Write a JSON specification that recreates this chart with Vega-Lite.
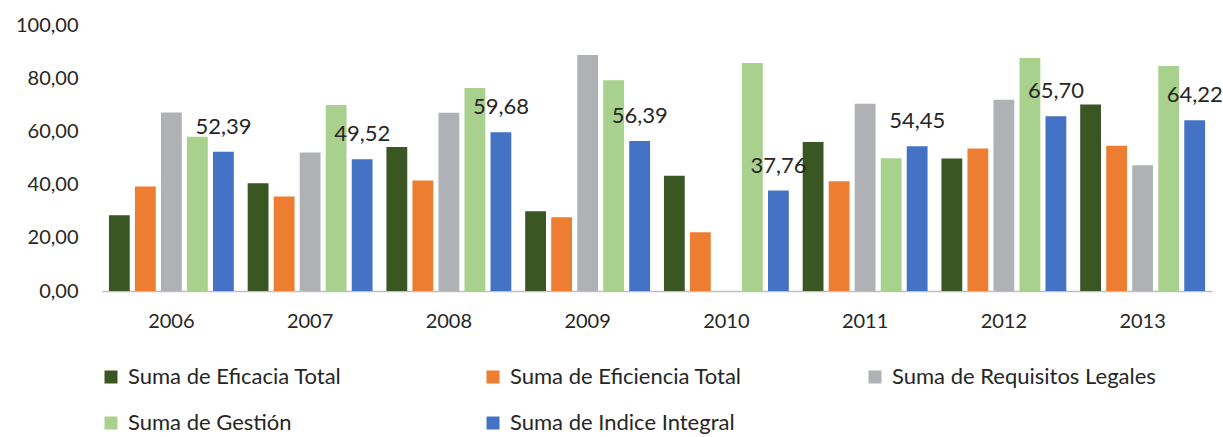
{
  "$schema": "https://vega.github.io/schema/vega-lite/v6.json",
  "width": 1110,
  "height": 266,
  "autosize": {"type": "none"},
  "padding": {"left": 102, "top": 25, "right": 11, "bottom": 146},
  "background": "white",
  "config": {
    "locale": {"number": {"decimal": ",", "thousands": ".", "grouping": [3], "currency": ["", " €"]}},
    "font": "Lato",
    "view": {"stroke": null}
  },
  "data": {
    "values": [
      {"year": "2006", "serie": "Suma de Eficacia Total", "valor": 28.5},
      {"year": "2006", "serie": "Suma de Eficiencia Total", "valor": 39.3},
      {"year": "2006", "serie": "Suma de Requisitos Legales", "valor": 67.1},
      {"year": "2006", "serie": "Suma de Gestión", "valor": 58.0},
      {"year": "2006", "serie": "Suma de Indice Integral", "valor": 52.39},
      {"year": "2007", "serie": "Suma de Eficacia Total", "valor": 40.5},
      {"year": "2007", "serie": "Suma de Eficiencia Total", "valor": 35.5},
      {"year": "2007", "serie": "Suma de Requisitos Legales", "valor": 52.1},
      {"year": "2007", "serie": "Suma de Gestión", "valor": 69.9},
      {"year": "2007", "serie": "Suma de Indice Integral", "valor": 49.52},
      {"year": "2008", "serie": "Suma de Eficacia Total", "valor": 54.1},
      {"year": "2008", "serie": "Suma de Eficiencia Total", "valor": 41.5},
      {"year": "2008", "serie": "Suma de Requisitos Legales", "valor": 67.0},
      {"year": "2008", "serie": "Suma de Gestión", "valor": 76.3},
      {"year": "2008", "serie": "Suma de Indice Integral", "valor": 59.68},
      {"year": "2009", "serie": "Suma de Eficacia Total", "valor": 30.0},
      {"year": "2009", "serie": "Suma de Eficiencia Total", "valor": 27.7},
      {"year": "2009", "serie": "Suma de Requisitos Legales", "valor": 88.7},
      {"year": "2009", "serie": "Suma de Gestión", "valor": 79.2},
      {"year": "2009", "serie": "Suma de Indice Integral", "valor": 56.39},
      {"year": "2010", "serie": "Suma de Eficacia Total", "valor": 43.3},
      {"year": "2010", "serie": "Suma de Eficiencia Total", "valor": 22.1},
      {"year": "2010", "serie": "Suma de Gestión", "valor": 85.7},
      {"year": "2010", "serie": "Suma de Indice Integral", "valor": 37.76},
      {"year": "2011", "serie": "Suma de Eficacia Total", "valor": 56.0},
      {"year": "2011", "serie": "Suma de Eficiencia Total", "valor": 41.3},
      {"year": "2011", "serie": "Suma de Requisitos Legales", "valor": 70.4},
      {"year": "2011", "serie": "Suma de Gestión", "valor": 49.9},
      {"year": "2011", "serie": "Suma de Indice Integral", "valor": 54.45},
      {"year": "2012", "serie": "Suma de Eficacia Total", "valor": 49.8},
      {"year": "2012", "serie": "Suma de Eficiencia Total", "valor": 53.6},
      {"year": "2012", "serie": "Suma de Requisitos Legales", "valor": 71.9},
      {"year": "2012", "serie": "Suma de Gestión", "valor": 87.6},
      {"year": "2012", "serie": "Suma de Indice Integral", "valor": 65.70},
      {"year": "2013", "serie": "Suma de Eficacia Total", "valor": 70.1},
      {"year": "2013", "serie": "Suma de Eficiencia Total", "valor": 54.6},
      {"year": "2013", "serie": "Suma de Requisitos Legales", "valor": 47.3},
      {"year": "2013", "serie": "Suma de Gestión", "valor": 84.6},
      {"year": "2013", "serie": "Suma de Indice Integral", "valor": 64.22}
    ]
  },
  "encoding": {
    "x": {
      "field": "year", "type": "nominal",
      "scale": {"paddingInner": 0.1, "paddingOuter": 0.05},
      "axis": {"title": null, "labelAngle": 0, "labelFontSize": 20, "labelColor": "#262626", "tickSize": 0, "labelPadding": 20, "domainColor": "#BFBFBF", "domainWidth": 1.5}
    },
    "xOffset": {
      "field": "serie", "type": "nominal",
      "scale": {"domain": ["Suma de Eficacia Total", "Suma de Eficiencia Total", "Suma de Requisitos Legales", "Suma de Gestión", "Suma de Indice Integral"], "paddingInner": 0.2, "paddingOuter": 0}
    },
    "y": {
      "field": "valor", "type": "quantitative",
      "scale": {"domain": [0, 100]},
      "axis": {"title": null, "format": ".2f", "values": [0, 20, 40, 60, 80, 100], "labelOverlap": false, "labelFlush": false, "labelBound": false, "grid": false, "domain": false, "ticks": false, "labelFontSize": 20, "labelColor": "#262626", "labelPadding": 24}
    }
  },
  "layer": [
    {
      "mark": {"type": "bar"},
      "encoding": {
        "color": {
          "field": "serie", "type": "nominal",
          "scale": {
            "domain": ["Suma de Eficacia Total", "Suma de Eficiencia Total", "Suma de Requisitos Legales", "Suma de Gestión", "Suma de Indice Integral"],
            "range": ["#3A5623", "#ED7D31", "#B0B1B4", "#A9D18E", "#4472C4"]
          },
          "legend": {
            "title": null, "orient": "none", "legendX": -2, "legendY": 341,
            "direction": "horizontal", "columns": 3, "gridAlign": "all",
            "symbolType": "square", "symbolSize": 169, "symbolStrokeWidth": 0,
            "labelFontSize": 22, "labelColor": "#262626", "labelOffset": 6,
            "columnPadding": 90, "rowPadding": 24, "padding": 0, "labelLimit": 400
          }
        }
      }
    },
    {
      "transform": [{"filter": "datum.serie === 'Suma de Indice Integral'"}],
      "mark": {"type": "text", "baseline": "alphabetic", "dy": -18, "fontSize": 22, "color": "#262626"},
      "encoding": {
        "text": {"field": "valor", "type": "quantitative", "format": ".2f"}
      }
    }
  ]
}
